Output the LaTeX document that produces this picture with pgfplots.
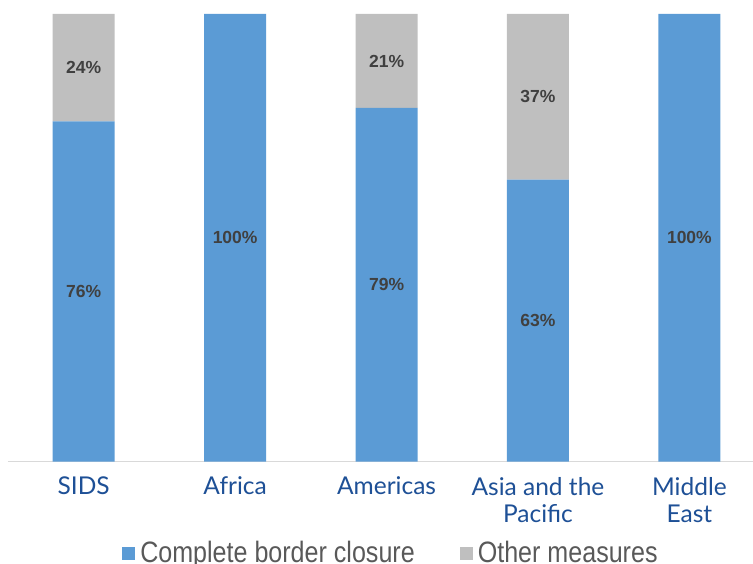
\documentclass[border=0pt]{standalone}
\usepackage{fontspec}
\setmainfont{Lato}
\newfontfamily\lab{Liberation Sans}
\newfontfamily\leg[FakeStretch=0.85]{Liberation Sans}
\usepackage{pgfplots}
\pgfplotsset{compat=1.18}
\definecolor{cblue}{HTML}{5B9BD5}
\definecolor{cgray}{HTML}{BFBFBF}
\definecolor{tblue}{RGB}{30,80,150}
\definecolor{lgray}{HTML}{595959}
\definecolor{dgray}{HTML}{404040}
\begin{document}
\begin{tikzpicture}[x=1pt,y=1pt]
\useasboundingbox (0,0) rectangle (753,563);
\begin{axis}[
  at={(8pt,101.5pt)}, anchor=south west,
  scale only axis, width=745pt, height=447.5pt,
  ybar stacked, bar width=62pt,
  xmin=-0.5, xmax=4.42, ymin=0, ymax=100,
  hide y axis, axis x line*=bottom,
  x axis line style={draw=black!15, line width=1pt, -},
  xtick={0,1,2,3,4}, major tick length=0pt,
  xticklabels={SIDS,Africa,Americas,{Asia and the\\Pacific},{Middle\\East}},
  xticklabel style={align=center, font=\fontsize{24.5}{27}\selectfont, text=tblue, yshift=-12pt},
  point meta=explicit symbolic,
  nodes near coords,
  every node near coord/.append style={font=\lab\bfseries\fontsize{17.5}{20}\selectfont, text=dgray, anchor=center},
  legend columns=2,
  legend style={draw=none, fill=none, at={(0.516,-0.2045)}, anchor=center,
    font=\leg\fontsize{29.5}{30}\selectfont, text=lgray,
    /tikz/every even column/.append style={column sep=40pt}},
  legend image code/.code={\fill[#1] (0pt,-6.5pt) rectangle (13pt,6.5pt);},
  legend cell align=left,
  legend style={nodes={inner xsep=5pt}},
]
\addplot[fill=cblue, draw=none] coordinates {(0,76)[76\%] (1,100)[100\%] (2,79)[79\%] (3,63)[63\%] (4,100)[100\%]};
\addplot[fill=cgray, draw=none] coordinates {(0,24)[24\%] (1,0)[] (2,21)[21\%] (3,37)[37\%] (4,0)[]};
\legend{Complete border closure, Other measures}
\end{axis}
\end{tikzpicture}
\end{document}
